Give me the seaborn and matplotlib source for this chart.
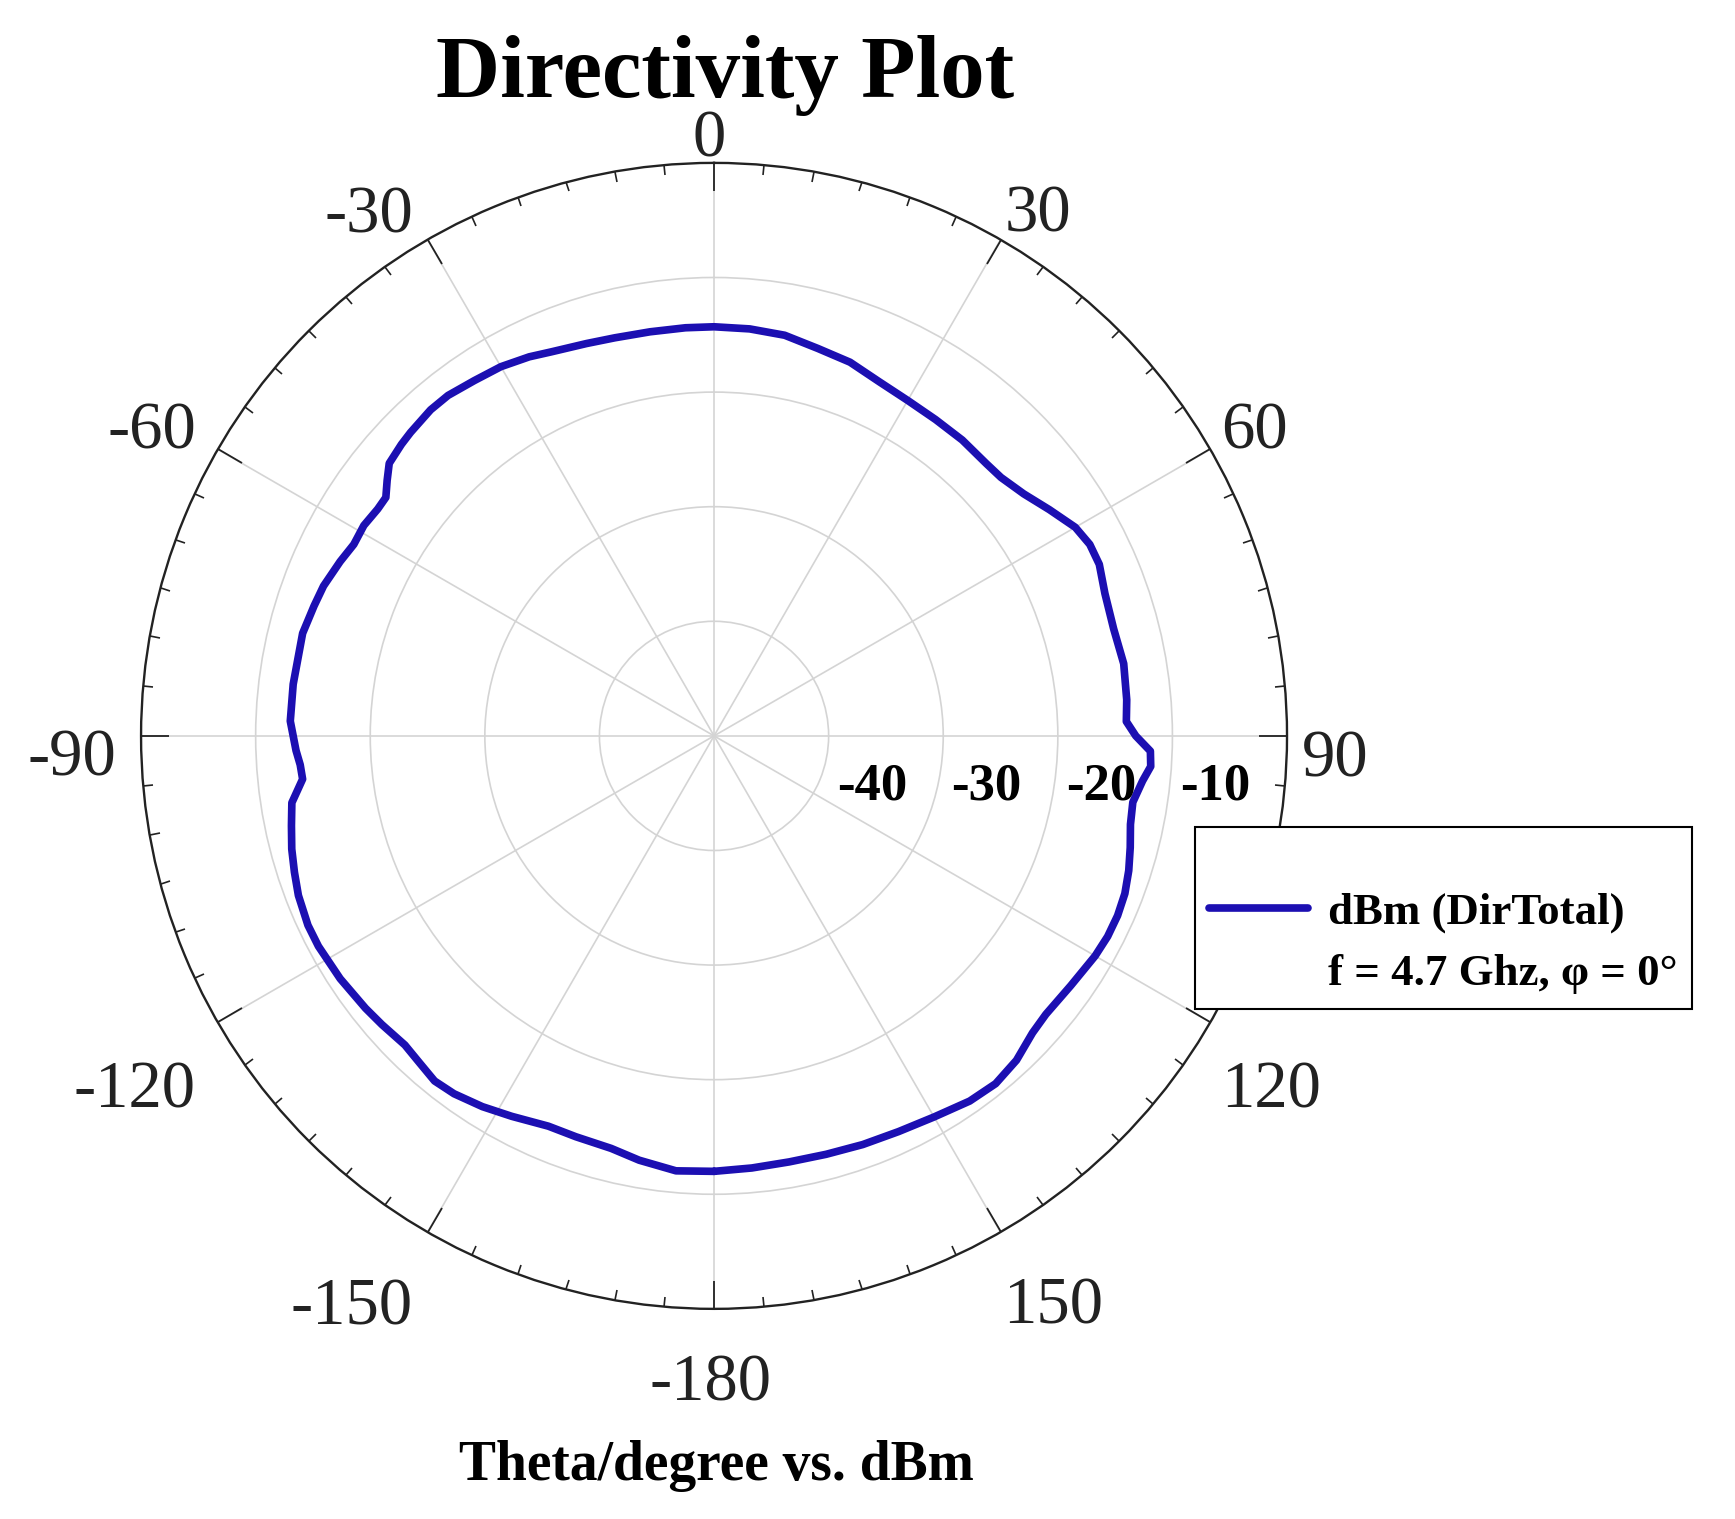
import numpy as np
import matplotlib
matplotlib.use('Agg')
import matplotlib.pyplot as plt
import matplotlib.transforms as mtrans
from matplotlib.lines import Line2D
import seaborn as sns

sns.set_style('ticks')
plt.rcParams['font.family'] = ['Liberation Serif', 'DejaVu Serif']
plt.rcParams['text.color'] = 'black'

# theta in degrees (clockwise from top), directivity in dBm
theta_deg = [-180, -175, -170, -166, -161, -157, -152, -148, -144, -141, -138, -135,
             -131, -128, -123, -118, -115, -111, -108, -105, -102, -99, -96, -94,
             -92, -88, -83, -76, -72, -69, -65, -62, -59, -56, -54, -52, -50, -47,
             -45, -41, -38, -34, -30, -26, -23, -18, -14, -9, -4, 0, 5, 10, 15, 20,
             25, 30, 35, 40, 45, 48, 52, 56, 60, 63, 66, 70, 75, 80, 85, 88, 90, 92,
             94, 96, 99, 102, 105, 108, 111, 114, 117, 120, 125, 130, 133, 137, 141,
             145, 150, 155, 160, 165, 170, 175, 180]
dbm = [-12.0, -11.9, -12.4, -12.9, -13.0, -13.0, -12.4, -11.85, -11.4, -11.25, -11.6, -11.85,
       -11.6, -11.4, -11.1, -10.9, -10.9, -11.15, -11.5, -11.85, -12.3, -12.7, -13.9, -13.8,
       -13.5, -13.0, -13.0, -13.0, -13.3, -13.5, -14.0, -14.4, -14.35, -14.6, -14.6, -13.8, -13.0, -12.7,
       -12.55, -12.3, -12.3, -12.6, -12.8, -13.2, -13.6, -14.0, -14.2, -14.3, -14.3, -14.3, -14.35, -14.5, -15.0, -15.3,
       -15.9, -16.2, -16.3, -16.3, -16.4, -16.3, -15.7, -14.7, -13.6, -13.2, -13.2, -13.7, -13.9, -13.7, -13.85, -14.0, -13.2, -11.9,
       -11.8, -12.4, -13.0, -12.85, -12.4, -11.95, -11.6, -11.45, -11.45, -11.6, -12.0, -12.2, -12.0, -11.3, -10.95,
       -11.1, -11.6, -11.9, -12.05, -12.2, -12.25, -12.15, -12.0]

angle_ticks = [0, 30, 60, 90, 120, 150, 180, 210, 240, 270, 300, 330]
angle_labels = ['0', '30', '60', '90', '120', '150', '-180', '-150', '-120', '-90', '-60', '-30']
# where each angle label sits: direction (deg) and radius in dB past the outer ring
label_dir = [-0.5, 31.9, 60.6, 92.2, 122.5, 149.3, 180.3, 212.4, 238.5, 267.9, 298.4, 326.4]
label_r = [2.0, 3.5, 4.1, 4.2, 7.6, 8.0, 6.6, 9.1, 9.3, 6.1, 5.8, 4.5]
r_ticks = [-40, -30, -20, -10]
r_labels = ['-40', '-30', '-20', '-10']

line_color = '#1c0fb2'

fig = plt.figure(figsize=(17.35, 15.19), dpi=100)
ax = fig.add_axes([0.0813, 0.1383, 0.6605, 0.7545], projection='polar')
ax.set_theta_zero_location('N')
ax.set_theta_direction(-1)

sns.lineplot(x=np.deg2rad(theta_deg), y=dbm, ax=ax, color=line_color,
             linewidth=5.5, sort=False, legend=False, solid_joinstyle='round')
ax.set_ylim(-50, 0)

# angular ticks on the outer ring
ax.set_xticks(np.deg2rad(angle_ticks))
ax.set_xticklabels([])
ax.set_xticks(np.deg2rad(np.arange(0, 360, 5)), minor=True)
ax.tick_params(axis='x', which='major', direction='in', length=20, width=1.3,
               color='#222222', bottom=False, top=True)
ax.tick_params(axis='x', which='minor', direction='in', length=7, width=1.2,
               color='#222222', bottom=False, top=True)

ax.set_yticks(r_ticks)
ax.set_yticklabels([])
ax.tick_params(axis='y', length=0)

ax.grid(True, color='#d4d4d4', linewidth=1.2)
ax.spines['polar'].set_color('#222222')
ax.spines['polar'].set_linewidth(1.7)

for a, lab, rr in zip(label_dir, angle_labels, label_r):
    ax.text(np.deg2rad(a), rr, lab, ha='center', va='center', fontsize=48,
            color='#222222', clip_on=False)

offset = mtrans.ScaledTranslation(8 / 100, -51 / 100, fig.dpi_scale_trans)
for r, lab in zip(r_ticks, r_labels):
    ax.text(np.pi / 2, r, lab, ha='left', va='center', fontsize=38,
            fontweight='bold', transform=ax.transData + offset)

fig.text(0.418, 0.9362, 'Directivity Plot', ha='center', va='baseline',
         fontsize=64, fontweight='bold')
fig.text(0.4127, 0.0257, 'Theta/degree vs. dBm', ha='center', va='baseline',
         fontsize=40, fontweight='bold')

handles = [Line2D([], [], color=line_color, linewidth=5.5),
           Line2D([], [], color='none')]
leg = fig.legend(handles, ['dBm (DirTotal)', 'f = 4.7 Ghz, \u03c6 = 0\u00b0'],
                 loc='upper left', bbox_to_anchor=(0.6888, 0.4556),
                 borderaxespad=0, prop={'size': 32.3, 'weight': 'bold'},
                 title=' ', title_fontsize=24, handlelength=2.2,
                 handletextpad=0.45, labelspacing=0.46, borderpad=0.32,
                 fancybox=False, framealpha=1, edgecolor='black')
leg.get_frame().set_linewidth(1.5)

fig.savefig('out.png', dpi=100)
